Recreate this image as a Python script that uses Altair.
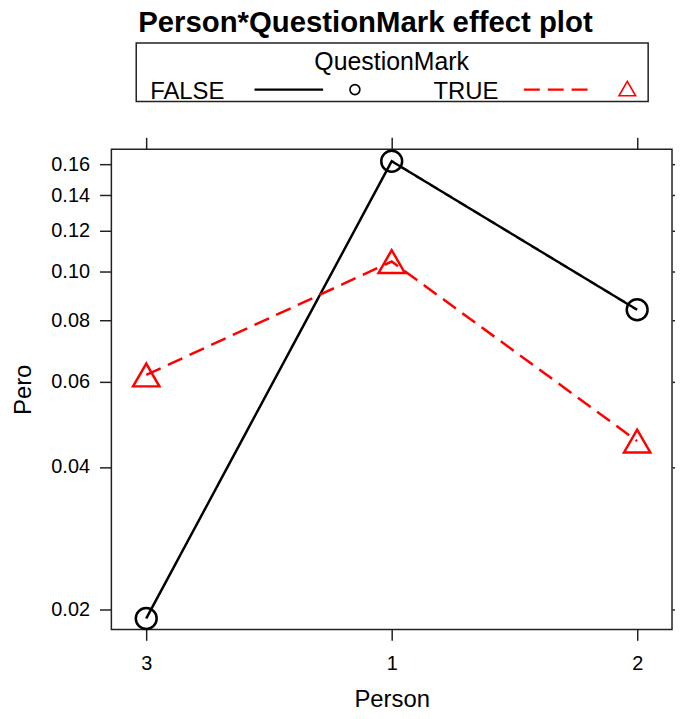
import math
import altair as alt
import pandas as pd

# ---- data ----
persons = ["3", "1", "2"]
groups = ["FALSE", "TRUE"]
pero_false = [0.0191, 0.162, 0.084]
pero_true = [0.062, 0.1046, 0.0453]
y_ticks = [0.02, 0.04, 0.06, 0.08, 0.10, 0.12, 0.14, 0.16]
y_limits = [0.0181, 0.1703]

rows = []
for g, vals in zip(groups, [pero_false, pero_true]):
    for p, v in zip(persons, vals):
        rows.append({"Person": p, "QuestionMark": g, "Pero": v})
df = pd.DataFrame(rows)


def logit(p):
    return math.log(p / (1 - p))


tick_vals = [logit(t) for t in y_ticks]
y_dom = [logit(y_limits[0]), logit(y_limits[1])]
FONT = "Liberation Sans"

xscale = alt.Scale(type="point", domain=persons, padding=0.142)
yscale = alt.Scale(domain=y_dom, nice=False, zero=False)
color_scale = alt.Scale(domain=groups, range=["black", "red"])

base = alt.Chart(df).transform_calculate(
    logit="log(datum.Pero/(1-datum.Pero))"
)

x_main = alt.X(
    "Person:N", sort=persons, scale=xscale,
    axis=alt.Axis(labelAngle=0, title="Person", tickSize=11, labelPadding=13,
                  titlePadding=15),
)
y_main = alt.Y(
    "logit:Q", scale=yscale,
    axis=alt.Axis(values=tick_vals, labelExpr="format(1/(1+exp(-datum.value)), '.2f')",
                  title="Pero", tickSize=12, labelPadding=10, titlePadding=15),
)

lines = base.mark_line(strokeWidth=2.5).encode(
    x=x_main, y=y_main,
    color=alt.Color("QuestionMark:N", scale=color_scale, legend=None),
    strokeDash=alt.StrokeDash("QuestionMark:N",
                              scale=alt.Scale(domain=groups, range=[[1, 0], [16, 8]]),
                              legend=None),
)
points = base.mark_point(filled=False, strokeWidth=2.5, opacity=1).encode(
    x=x_main, y=y_main,
    color=alt.Color("QuestionMark:N", scale=color_scale, legend=None),
    shape=alt.Shape("QuestionMark:N",
                    scale=alt.Scale(domain=groups, range=["circle", "triangle-up"]),
                    legend=None),
    size=alt.condition(alt.datum.QuestionMark == "FALSE", alt.value(441), alt.value(700)),
)

# ---- key drawn above the panel ----
one = pd.DataFrame({"k": [0]})
key_box = alt.Chart(one).mark_rect(fill="white", stroke="#222", strokeWidth=1.5).encode(
    x=alt.value(25), x2=alt.value(540), y=alt.value(-107), y2=alt.value(-48))
key_title = alt.Chart(one).mark_text(font=FONT, fontSize=25, align="center",
                                     baseline="alphabetic").encode(
    x=alt.value(282), y=alt.value(-80), text=alt.value("QuestionMark"))
key_f = alt.Chart(one).mark_text(font=FONT, fontSize=24, align="left",
                                 baseline="alphabetic").encode(
    x=alt.value(39), y=alt.value(-51), text=alt.value(groups[0]))
key_t = alt.Chart(one).mark_text(font=FONT, fontSize=24, align="left",
                                 baseline="alphabetic").encode(
    x=alt.value(324), y=alt.value(-51), text=alt.value(groups[1]))
key_fl = alt.Chart(one).mark_rule(color="black", strokeWidth=2.5).encode(
    x=alt.value(144), x2=alt.value(213), y=alt.value(-60))
key_tl = alt.Chart(one).mark_rule(color="red", strokeWidth=2.5, strokeDash=[16, 8]).encode(
    x=alt.value(415), x2=alt.value(480), y=alt.value(-60))
key_fp = alt.Chart(one).mark_point(shape="circle", color="black", filled=False,
                                   strokeWidth=1.6, size=100, opacity=1).encode(
    x=alt.value(245), y=alt.value(-60))
key_tp = alt.Chart(one).mark_point(shape="triangle-up", color="red", filled=False,
                                   strokeWidth=1.6, size=280, opacity=1).encode(
    x=alt.value(519), y=alt.value(-61))

main = alt.layer(lines, points, key_box, key_title, key_f, key_t, key_fl, key_tl,
                 key_fp, key_tp)

ghost = base.mark_point(opacity=0).encode(
    x=alt.X("Person:N", sort=persons, scale=xscale,
            axis=alt.Axis(orient="top", labels=False, title=None, tickSize=12)),
    y=alt.Y("logit:Q", scale=yscale,
            axis=alt.Axis(orient="right", labels=False, title=None, values=tick_vals,
                          tickSize=10)),
)

chart = alt.layer(main, ghost).resolve_scale(x="independent", y="independent").properties(
    width=564, height=483,
    autosize=alt.AutoSizeParams(type="none"),
    padding={"left": 104, "top": 140, "right": 3, "bottom": 80},
    title=alt.Title("Person*QuestionMark effect plot", font=FONT, fontSize=29.5,
                    fontWeight="bold", anchor="start", frame="group", dx=27,
                    color="black"),
).configure_view(stroke="#222", strokeWidth=1.5).configure_axis(
    labelFont=FONT, titleFont=FONT, labelFontSize=20, titleFontSize=24,
    titleFontWeight="normal", labelColor="black", titleColor="black",
    tickColor="#222", tickWidth=1.5, grid=False, domain=False,
)

chart.save("out.html", embed_options={"renderer": "svg", "actions": False})
